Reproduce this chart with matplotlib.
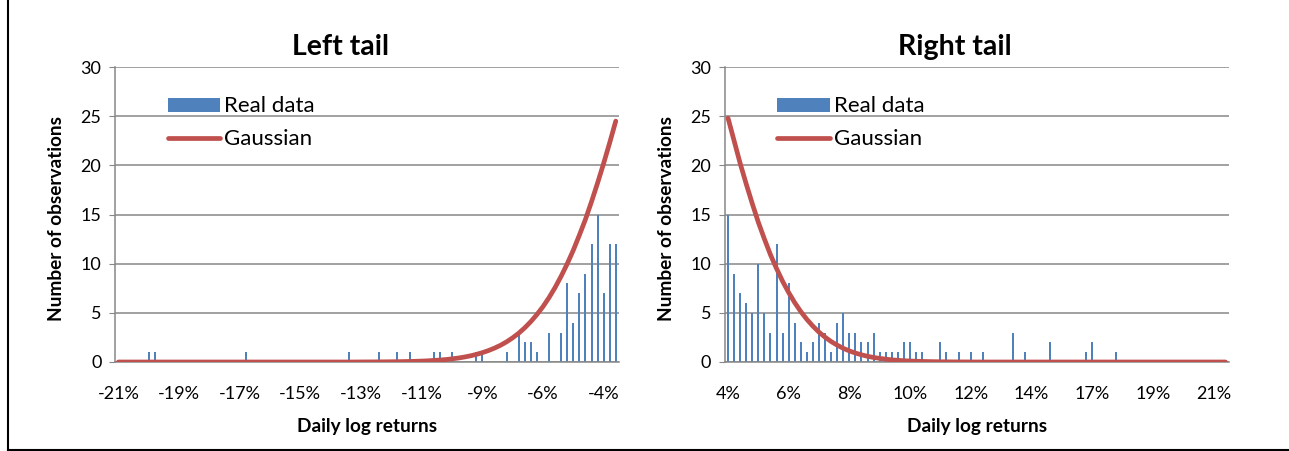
import matplotlib
matplotlib.use("Agg")
import matplotlib.pyplot as plt
from matplotlib.lines import Line2D

plt.rcParams["font.family"] = ["Lato", "DejaVu Sans"]

# 83 return bins per panel, tick labels every 10 bins
tick_pos = [0, 10, 20, 30, 40, 50, 60, 70, 80]
left_ticks = ["-21%", "-19%", "-17%", "-15%", "-13%", "-11%", "-9%", "-6%", "-4%"]
right_ticks = ["4%", "6%", "8%", "10%", "12%", "14%", "17%", "19%", "21%"]

left_counts = ([0] * 5 + [1, 1] + [0] * 14 + [1] + [0] * 16 + [1] + [0] * 4
               + [1, 0, 0, 1, 0, 1, 0, 0, 0, 1, 1, 0, 1, 0, 0, 0, 1, 1, 0, 0, 0, 1,
                  0, 3, 2, 2, 1, 0, 3, 0, 3, 8, 4, 7, 9, 12, 15, 7, 12, 12])
left_gauss = [0.0] * 40 + [
    0.006, 0.008, 0.011, 0.014, 0.019, 0.025, 0.033, 0.043, 0.057, 0.073,
    0.095, 0.12, 0.16, 0.20, 0.25, 0.32, 0.40, 0.50, 0.62, 0.77,
    0.95, 1.16, 1.41, 1.70, 2.05, 2.46, 2.93, 3.48, 4.11, 4.83,
    5.63, 6.55, 7.58, 8.73, 9.99, 11.37, 12.9, 14.5, 16.3, 18.2,
    20.2, 22.3, 24.5]

right_counts = ([15, 9, 7, 6, 5, 10, 5, 3, 12, 3, 8, 4, 2, 1, 2, 4, 3, 1, 4, 5,
                 3, 3, 2, 2, 3, 1, 1, 1, 1, 2, 2, 1, 1, 0, 0, 2, 1, 0, 1, 0,
                 1, 0, 1, 0, 0, 0, 0, 3, 0, 1, 0, 0, 0, 2, 0, 0, 0, 0, 0, 1,
                 2, 0, 0, 0, 1] + [0] * 18)
right_gauss = [
    24.8, 22.5, 20.2, 18.1, 16.1, 14.2, 12.5, 10.9, 9.5, 8.2,
    7.06, 6.03, 5.12, 4.33, 3.64, 3.03, 2.52, 2.08, 1.71, 1.39,
    1.13, 0.91, 0.73, 0.58, 0.46, 0.37, 0.29, 0.22, 0.17, 0.13,
    0.10, 0.078, 0.059, 0.044, 0.033, 0.025, 0.018, 0.013, 0.010, 0.007,
    0.005] + [0.0] * 42

BAR = "#4F81BD"
LINE = "#C0504D"
GRID = "#878787"

W, H = 1289, 451
fig = plt.figure(figsize=(W / 100, H / 100), dpi=100)


def panel(left_px, counts, gauss, ticks, title, title_x):
    ax = fig.add_axes([left_px / W, 1 - 362 / H, 503.5 / W, 295 / H])
    x = list(range(len(counts)))
    bars = ax.bar(x, counts, width=0.33, color=BAR, zorder=2)
    line, = ax.plot(x, gauss, color=LINE, lw=3.4, solid_capstyle="round", zorder=3)
    ax.set_xlim(-0.5, len(counts) - 0.5)
    ax.set_ylim(0, 30)
    ax.set_yticks(range(0, 31, 5))
    ax.set_xticks(tick_pos)
    ax.set_xticklabels(ticks)
    ax.yaxis.grid(True, color=GRID, lw=1.1, zorder=0)
    ax.set_axisbelow(True)
    for s in ("top", "right"):
        ax.spines[s].set_visible(False)
    for s in ("left", "bottom"):
        ax.spines[s].set_color(GRID)
        ax.spines[s].set_linewidth(1.1)
    ax.tick_params(axis="y", length=4, color=GRID, labelsize=13, pad=6)
    ax.tick_params(axis="x", length=0, labelsize=13, pad=17)
    ax.set_ylabel("Number of observations", fontsize=13.7, fontweight="bold",
                  va="center")
    ax.yaxis.set_label_coords(-0.117, 0.485)
    ax.set_xlabel("Daily log returns", fontsize=13.7, fontweight="bold", va="center")
    ax.xaxis.set_label_coords(0.5, -0.22)
    ax.legend([bars, line], ["Real data", "Gaussian"], loc="upper left",
              bbox_to_anchor=(0.104, 0.90), frameon=False,
              fontsize=16, handlelength=2.35, handleheight=0.6, handletextpad=0.2,
              labelspacing=0.58, borderpad=0, borderaxespad=0)
    fig.text(title_x / W, 1 - 47 / H, title, ha="center", va="center",
             fontsize=20.5, fontweight="bold")
    return ax


panel(115.3, left_counts, left_gauss, left_ticks, "Left tail", 341)
panel(725, right_counts, right_gauss, right_ticks, "Right tail", 955)

# outer frame lines (left and bottom only)
fig.add_artist(Line2D([7.5 / W, 7.5 / W], [1, 1 - 449.5 / H], color="black", lw=1.5))
fig.add_artist(Line2D([7.5 / W, 1], [1 - 449.5 / H, 1 - 449.5 / H], color="black", lw=1.5))

fig.savefig("out.png", dpi=100)
